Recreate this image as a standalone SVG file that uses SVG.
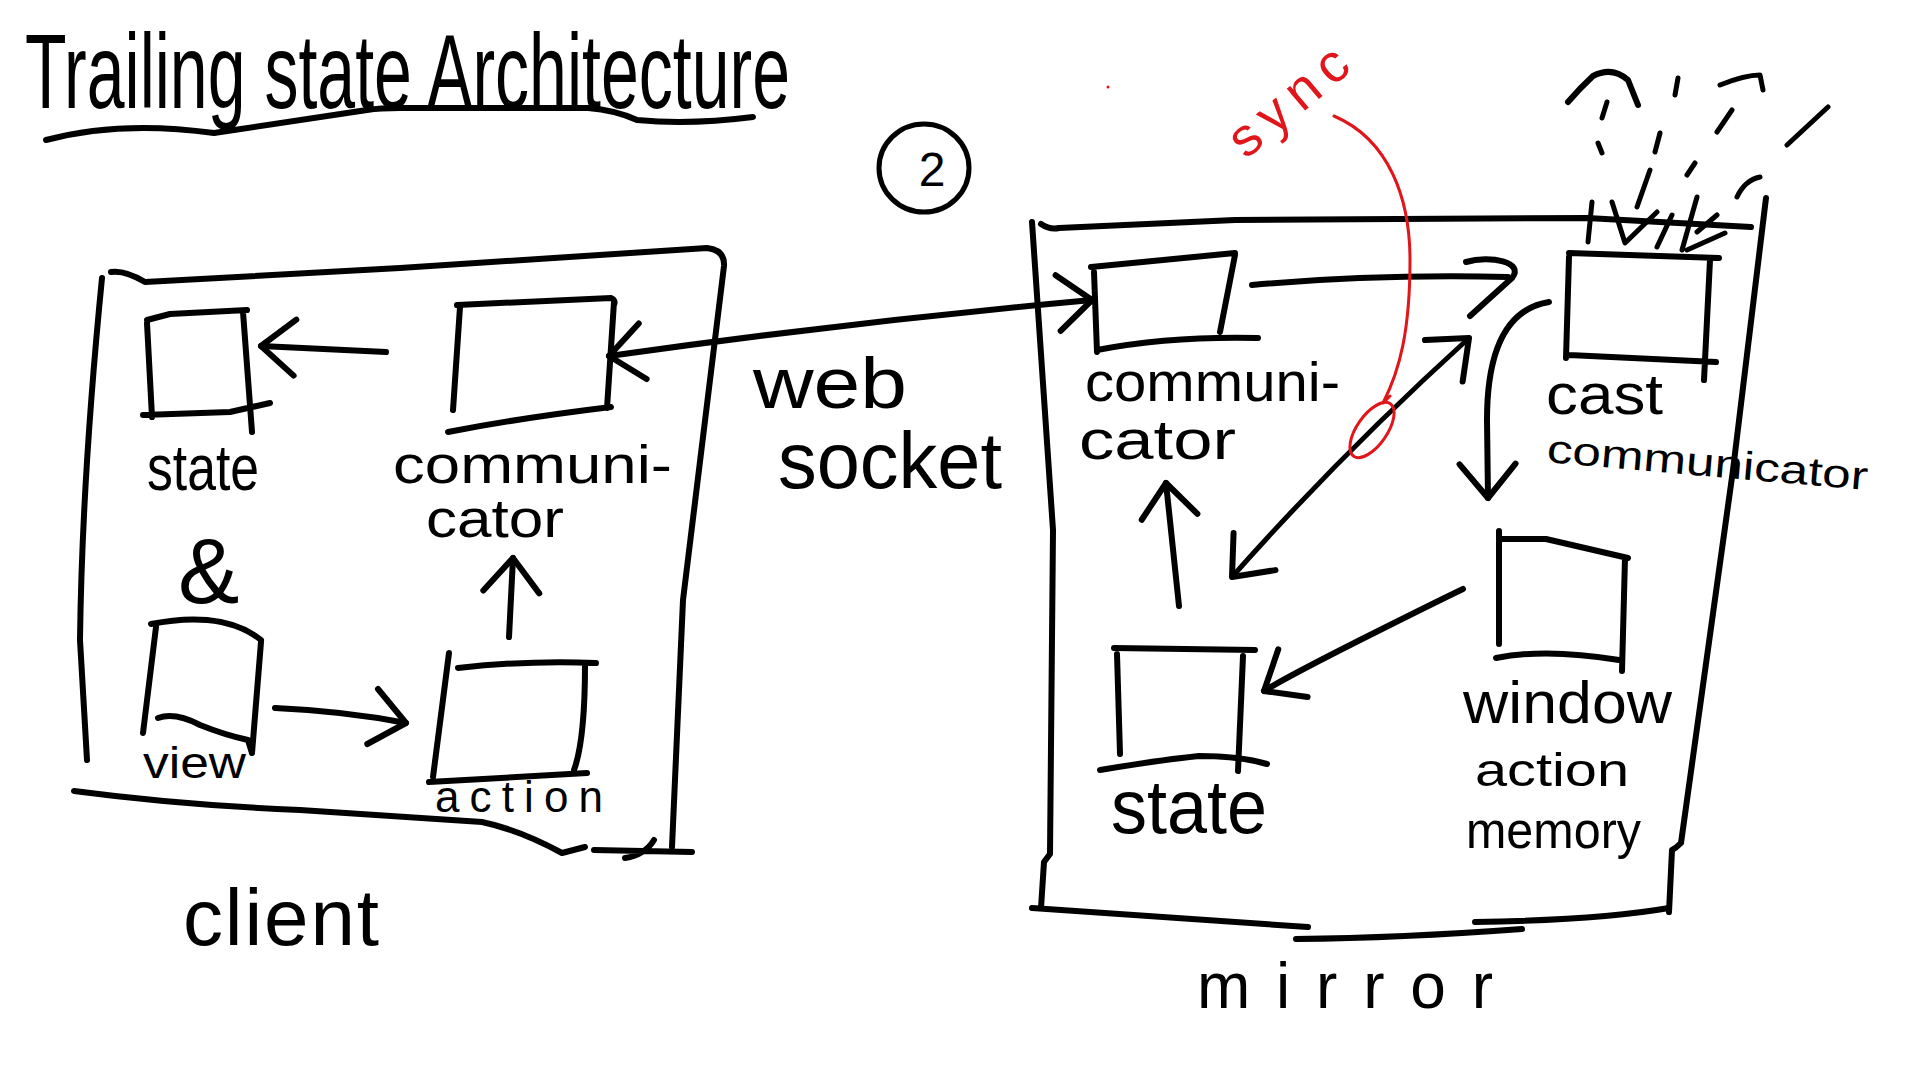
<svg xmlns="http://www.w3.org/2000/svg" width="1920" height="1080" viewBox="0 0 1920 1080">
<defs>
<style>
.s{fill:none;stroke:#000;stroke-width:6;stroke-linecap:round;stroke-linejoin:round}
.t{fill:none;stroke:#000;stroke-width:5;stroke-linecap:round;stroke-linejoin:round}
.r{fill:none;stroke:#e0161b;stroke-width:3;stroke-linecap:round;stroke-linejoin:round}
.hw{font-family:"Liberation Sans",Arial,sans-serif;fill:#000}
.red{font-family:"Liberation Sans",Arial,sans-serif;fill:#e0161b}
</style>
<marker id="ah" viewBox="-40 -35 45 70" refX="0" refY="0" markerWidth="45" markerHeight="70" markerUnits="userSpaceOnUse" orient="auto-start-reverse">
<path d="M-34 -28 L0 0 L-34 28" fill="none" stroke="#000" stroke-width="6" stroke-linecap="round" stroke-linejoin="round"/>
</marker>
</defs>
<rect width="1920" height="1080" fill="#fff"/>

<g id="title">
<text class="hw" x="25" y="108" font-size="105" textLength="765" lengthAdjust="spacingAndGlyphs">Trailing state Architecture</text>
<path class="s" d="M46 140 Q 120 120 214 133 Q 300 120 367 110 Q 380 108 400 108 L 588 108 Q 615 110 637 120 Q 690 125 753 117"/>
</g>

<g id="step-2">
<ellipse class="t" cx="924" cy="168" rx="45" ry="44"/>
<text class="hw" x="932" y="186" font-size="48" text-anchor="middle">2</text>
</g>

<g id="client">
<path class="s" d="M111 272 Q 125 270 145 282 L 400 268 L 707 248 Q 725 250 724 266 L 683 600 L 672 847"/>
<path class="s" d="M102 278 Q 82 480 80 640 L 87 760"/>
<path class="s" d="M74 791 Q 180 805 300 810 L 482 822 Q 520 830 562 853 L 585 847 M594 850 L 692 852 M625 858 Q 645 855 654 840"/>
<text class="hw" x="183" y="945" font-size="80" textLength="196" lengthAdjust="spacing">client</text>
</g>

<g id="client-state">
<path class="s" d="M147 320 L 170 314 L 247 310 M147 323 L 152 417 M243 312 L 252 432 M143 415 L 230 412 L 270 403"/>
<text class="hw" x="147" y="490" font-size="64" textLength="112" lengthAdjust="spacingAndGlyphs">state</text>
</g>

<g id="client-amp">
<text class="hw" x="178" y="603" font-size="92">&amp;</text>
</g>

<g id="client-communicator">
<path class="s" d="M457 305 L 611 298 Q 616 300 614 305 M460 307 L 453 410 M614 302 L 607 408 M448 432 Q 520 418 611 407"/>
<text class="hw" font-size="54"><tspan x="393" y="483" textLength="279" lengthAdjust="spacingAndGlyphs">communi-</tspan><tspan x="426" y="537" textLength="138" lengthAdjust="spacingAndGlyphs">cator</tspan></text>
</g>

<g id="client-view">
<path class="s" d="M151 624 C 185 617 230 615 261 640 M156 627 L 143 733 M261 642 L 252 753 M158 718 Q 175 712 200 725 Q 225 735 248 740 L 252 753"/>
<text class="hw" x="143" y="778" font-size="44" textLength="103" lengthAdjust="spacingAndGlyphs">view</text>
</g>

<g id="client-action">
<path class="s" d="M449 653 L 433 777 M458 668 Q 530 660 596 663 M585 665 Q 585 740 574 770 M429 782 L 587 773"/>
<text class="hw" x="435" y="812" font-size="44" textLength="168" lengthAdjust="spacing">action</text>
</g>

<g id="websocket-label">
<text class="hw"><tspan x="753" y="408" font-size="72" textLength="154" lengthAdjust="spacingAndGlyphs">web</tspan><tspan x="778" y="488" font-size="80" textLength="224" lengthAdjust="spacingAndGlyphs">socket</tspan></text>
</g>

<g id="mirror">
<path class="s" d="M1041 224 Q 1050 230 1059 228 L 1235 220 L 1587 218 L 1751 227"/>
<path class="s" d="M1032 222 L 1053 530 L 1050 854 L 1044 862 L 1041 908"/>
<path class="s" d="M1766 198 L 1733 470 L 1681 843 Q 1676 848 1672 850 L 1669 912"/>
<path class="s" d="M1032 908 L 1308 927 M1296 939 Q 1400 938 1522 929 M1475 922 Q 1600 920 1669 908"/>
<text class="hw" x="1197" y="1008" font-size="64" textLength="296" lengthAdjust="spacing">mirror</text>
</g>

<g id="mirror-communicator">
<path class="s" d="M1091 267 L 1235 253 M1094 272 L 1097 352 M1235 255 L 1220 332 M1097 350 Q 1170 336 1258 338"/>
<text class="hw" font-size="56"><tspan x="1085" y="401" textLength="255" lengthAdjust="spacingAndGlyphs">communi-</tspan><tspan x="1079" y="459" textLength="157" lengthAdjust="spacingAndGlyphs">cator</tspan></text>
</g>

<g id="cast-communicator">
<path class="s" d="M1569 253 L 1719 258 M1569 257 L 1566 358 M1710 260 L 1704 380 M1569 355 L 1716 362"/>
<text class="hw" x="1546" y="414" font-size="58" textLength="117" lengthAdjust="spacingAndGlyphs">cast</text>
<text class="hw" x="1546" y="462" font-size="40" textLength="322" lengthAdjust="spacingAndGlyphs" transform="rotate(5 1546 462)">communicator</text>
<g id="sparks">
<path class="s" stroke-width="7" d="M1568 102 Q 1580 88 1593 76 Q 1612 66 1628 80 L 1638 105"/>
<path class="t" d="M1607 102 L1602 118 M1598 143 L1602 153 M1678 78 L1675 95 M1720 85 Q1745 75 1760 75 L1763 90 M1732 110 L1717 132 M1828 107 L1787 145 M1660 133 L1655 152 M1695 163 L1687 175 M1650 170 L1637 207 M1760 177 Q1745 180 1737 197 M1592 202 L1588 242 M1612 202 L1625 243 L1657 212 M1672 215 L1657 247 M1697 197 L1682 250 M1717 215 L1697 232 M1725 233 L1687 250"/>
</g>
</g>

<g id="mirror-state">
<path class="s" d="M1114 648 L 1255 650 M1117 654 L 1120 754 M1243 656 L 1238 771 M1100 770 Q 1160 760 1199 756 Q 1240 756 1267 764"/>
<text class="hw" x="1111" y="833" font-size="76" textLength="156" lengthAdjust="spacingAndGlyphs">state</text>
</g>

<g id="window-action-memory">
<path class="s" d="M1499 531 L 1499 644 M1499 539 L 1546 539 L 1628 558 M1625 558 L 1622 671 M1496 658 Q 1546 648 1619 660"/>
<text class="hw" font-size="52"><tspan x="1463" y="723" font-size="60" textLength="209" lengthAdjust="spacingAndGlyphs">window</tspan><tspan x="1475" y="786" font-size="46" textLength="154" lengthAdjust="spacingAndGlyphs">action</tspan><tspan x="1466" y="848" textLength="175" lengthAdjust="spacingAndGlyphs">memory</tspan></text>
</g>

<g id="connectors">
<path class="s" marker-end="url(#ah)" d="M386 352 L 261 346"/>
<path class="s" marker-start="url(#ah)" marker-end="url(#ah)" d="M609 356 Q 850 322 1092 300"/>
<path class="s" marker-end="url(#ah)" d="M275 708 C 320 710 370 716 406 723"/>
<path class="s" marker-end="url(#ah)" d="M509 637 L 513 558"/>
<path class="s" d="M1252 285 C 1330 278 1420 275 1508 277"/>
<path class="s" d="M1466 262 C 1490 255 1525 262 1512 278 L 1470 316"/>
<path class="s" marker-end="url(#ah)" d="M1549 302 C 1500 310 1487 363 1487 420 L 1488 498"/>
<path class="t" marker-start="url(#ah)" marker-end="url(#ah)" d="M1232 577 Q 1340 455 1469 338"/>
<path class="s" marker-end="url(#ah)" d="M1179 606 L 1166 483"/>
<path class="s" marker-end="url(#ah)" d="M1463 589 C 1440 600 1420 610 1380 630 C 1330 655 1290 675 1264 691"/>
</g>

<g id="sync">
<text class="red" x="1246" y="160" font-size="54" textLength="140" lengthAdjust="spacing" transform="rotate(-40 1246 160)">sync</text>
<path class="r" d="M1334 116 C 1390 140 1410 200 1410 260 C 1410 330 1400 370 1383 403 L 1390 396"/>
<ellipse class="r" cx="1372" cy="430" rx="15" ry="32" transform="rotate(35 1372 430)"/>
<circle cx="1108" cy="87" r="1.5" fill="#e0161b"/>
</g>
</svg>
